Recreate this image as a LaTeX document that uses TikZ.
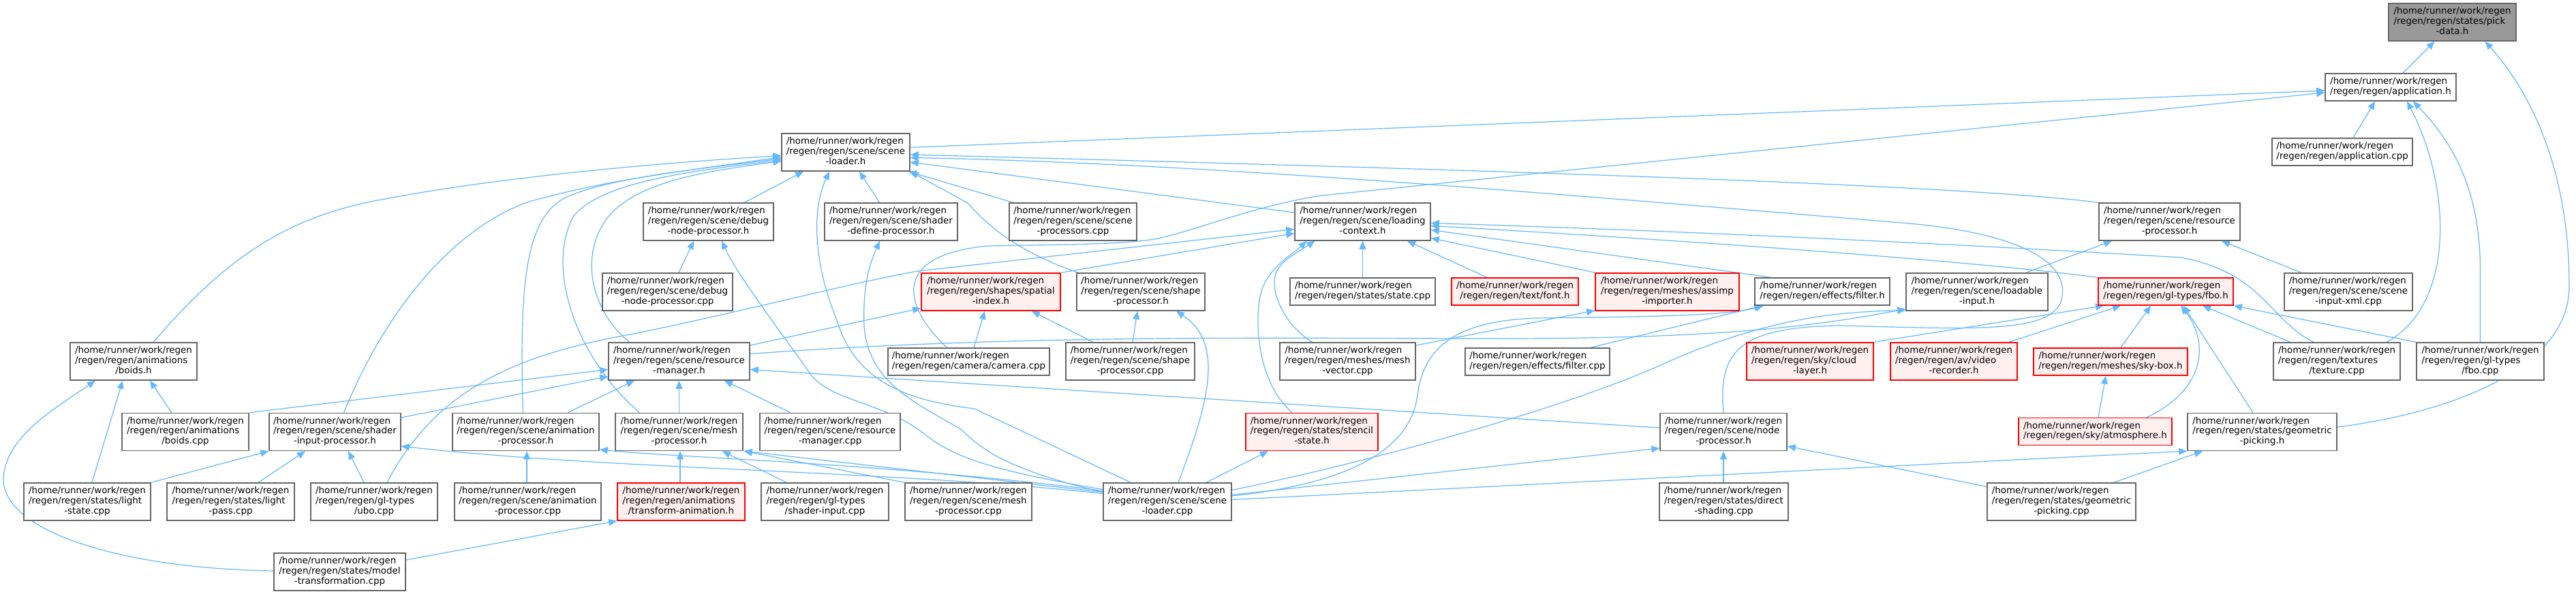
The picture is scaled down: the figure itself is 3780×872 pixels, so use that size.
\documentclass[tikz,border=0pt]{standalone}
\usepackage{fontspec}
\setmainfont{DejaVu Sans}
\usetikzlibrary{arrows.meta}
\definecolor{edgeblue}{HTML}{63B8FF}
\definecolor{boxgray}{HTML}{666666}
\definecolor{topfill}{HTML}{999999}
\definecolor{redfill}{HTML}{FFF0F0}
\definecolor{redline}{HTML}{FF0000}
\newcommand{\lthree}[3]{\begin{tabular}{@{}l@{}}#1\\#2\\\multicolumn{1}{@{}c@{}}{#3}\end{tabular}}
\newcommand{\ltwo}[2]{\begin{tabular}{@{}l@{}}#1\\\multicolumn{1}{@{}c@{}}{#2}\end{tabular}}
\newcommand{\hm}{/home/runner/work/regen}
\pgfdeclarelayer{background}
\pgfdeclarelayer{edges}
\pgfsetlayers{background,edges,main}
\begin{document}
\begin{tikzpicture}[x=1pt,y=-1pt,
  file/.style={draw=boxgray, line width=1.5pt, fill=white, inner sep=0pt, minimum height=55pt, font=\fontsize{13.4}{14.8}\selectfont},
  file2/.style={file, minimum height=40pt},
  trunc/.style={draw=redline, fill=redfill},
  topfile/.style={fill=topfill},
  dep/.style={draw=edgeblue, line width=1.2pt, -{Triangle[length=12pt,width=10pt]}},
]
\useasboundingbox (0,0) rectangle (3780,872);
\begin{pgfonlayer}{background}
\fill[white] (0,0) rectangle (3780,872);
\end{pgfonlayer}

% row 0-2
\node[file, topfile, minimum width=187pt] (pick) at (3598.5,32.5) {\lthree{\hm}{/regen/regen/states/pick}{-data.h}};
\node[file2, minimum width=192pt] (app_h) at (3508,128) {\ltwo{\hm}{/regen/regen/application.h}};
\node[file, minimum width=188pt] (sl_h) at (1241,223.5) {\lthree{\hm}{/regen/regen/scene/scene}{-loader.h}};
\node[file2, minimum width=206pt] (app_cpp) at (3437,223) {\ltwo{\hm}{/regen/regen/application.cpp}};
% row 3
\node[file, minimum width=191pt] (dnp_h) at (1039.5,325.5) {\lthree{\hm}{/regen/regen/scene/debug}{-node-processor.h}};
\node[file, minimum width=195pt] (sdp_h) at (1307.5,325.5) {\lthree{\hm}{/regen/regen/scene/shader}{-define-processor.h}};
\node[file, minimum width=187pt] (sproc) at (1574.5,325.5) {\lthree{\hm}{/regen/regen/scene/scene}{-processors.cpp}};
\node[file, minimum width=199pt] (lc_h) at (1999.5,325.5) {\lthree{\hm}{/regen/regen/scene/loading}{-context.h}};
\node[file, minimum width=207pt] (rp_h) at (3183.5,325.5) {\lthree{\hm}{/regen/regen/scene/resource}{-processor.h}};
% row 4
\node[file, minimum width=191pt] (dnp_cpp) at (979.5,428.5) {\lthree{\hm}{/regen/regen/scene/debug}{-node-processor.cpp}};
\node[file, trunc, minimum width=204pt] (spatial) at (1454,428.5) {\lthree{\hm}{/regen/regen/shapes/spatial}{-index.h}};
\node[file, minimum width=188pt] (shapep_h) at (1674,428.5) {\lthree{\hm}{/regen/regen/scene/shape}{-processor.h}};
\node[file2, minimum width=213pt] (state_cpp) at (1999.5,428) {\ltwo{\hm}{/regen/regen/states/state.cpp}};
\node[file2, trunc, minimum width=186pt] (font) at (2223,428) {\ltwo{\hm}{/regen/regen/text/font.h}};
\node[file, trunc, minimum width=211pt] (assimp) at (2446.5,428.5) {\lthree{\hm}{/regen/regen/meshes/assimp}{-importer.h}};
\node[file2, minimum width=198pt] (filter_h) at (2674,428) {\ltwo{\hm}{/regen/regen/effects/filter.h}};
\node[file, minimum width=208pt] (loadable) at (2901,428.5) {\lthree{\hm}{/regen/regen/scene/loadable}{-input.h}};
\node[file2, trunc, minimum width=198pt] (fbo_h) at (3178,428) {\ltwo{\hm}{/regen/regen/gl-types/fbo.h}};
\node[file, minimum width=188pt] (xml) at (3446,428.5) {\lthree{\hm}{/regen/regen/scene/scene}{-input-xml.cpp}};
% row 5
\node[file, minimum width=186pt] (boids_h) at (196,530.5) {\lthree{\hm}{/regen/regen/animations}{/boids.h}};
\node[file, minimum width=207pt] (resmgr_h) at (996.5,530.5) {\lthree{\hm}{/regen/regen/scene/resource}{-manager.h}};
\node[file2, minimum width=237pt] (camera) at (1421.5,531) {\ltwo{\hm}{/regen/regen/camera/camera.cpp}};
\node[file, minimum width=189pt] (shapep_cpp) at (1658.5,530.5) {\lthree{\hm}{/regen/regen/scene/shape}{-processor.cpp}};
\node[file, minimum width=199pt] (meshvec) at (1977.5,530.5) {\lthree{\hm}{/regen/regen/meshes/mesh}{-vector.cpp}};
\node[file2, minimum width=212pt] (filter_cpp) at (2256,531) {\ltwo{\hm}{/regen/regen/effects/filter.cpp}};
\node[file, trunc, minimum width=186pt] (cloud) at (2656,530.5) {\lthree{\hm}{/regen/regen/sky/cloud}{-layer.h}};
\node[file, trunc, minimum width=186pt] (video) at (2867,530.5) {\lthree{\hm}{/regen/regen/av/video}{-recorder.h}};
\node[file2, trunc, minimum width=226pt] (skybox) at (3097,531) {\ltwo{\hm}{/regen/regen/meshes/sky-box.h}};
\node[file, minimum width=186pt] (texture) at (3429,530.5) {\lthree{\hm}{/regen/regen/textures}{/texture.cpp}};
\node[file, minimum width=187pt] (fbo_cpp) at (3639.5,530.5) {\lthree{\hm}{/regen/regen/gl-types}{/fbo.cpp}};
% row 6
\node[file, minimum width=186pt] (boids_cpp) at (272,634) {\lthree{\hm}{/regen/regen/animations}{/boids.cpp}};
\node[file, minimum width=193pt] (sip_h) at (491.5,634) {\lthree{\hm}{/regen/regen/scene/shader}{-input-processor.h}};
\node[file, minimum width=215pt] (animp_h) at (771.5,634) {\lthree{\hm}{/regen/regen/scene/animation}{-processor.h}};
\node[file, minimum width=187pt] (meshp_h) at (996.5,634) {\lthree{\hm}{/regen/regen/scene/mesh}{-processor.h}};
\node[file, minimum width=206pt] (resmgr_cpp) at (1218,634) {\lthree{\hm}{/regen/regen/scene/resource}{-manager.cpp}};
\node[file, trunc, minimum width=194pt] (stencil) at (1925,634) {\lthree{\hm}{/regen/regen/states/stencil}{-state.h}};
\node[file, minimum width=186pt] (np_h) at (2529,634) {\lthree{\hm}{/regen/regen/scene/node}{-processor.h}};
\node[file2, trunc, minimum width=225pt] (atmos) at (3074.5,633.5) {\ltwo{\hm}{/regen/regen/sky/atmosphere.h}};
\node[file, minimum width=219pt] (geopick_h) at (3319.5,634) {\lthree{\hm}{/regen/regen/states/geometric}{-picking.h}};
% row 7
\node[file, minimum width=186pt] (lightstate) at (128,736.5) {\lthree{\hm}{/regen/regen/states/light}{-state.cpp}};
\node[file, minimum width=187pt] (lightpass) at (338.5,736.5) {\lthree{\hm}{/regen/regen/states/light}{-pass.cpp}};
\node[file, minimum width=186pt] (ubo) at (549,736.5) {\lthree{\hm}{/regen/regen/gl-types}{/ubo.cpp}};
\node[file, minimum width=215pt] (animp_cpp) at (774.5,736.5) {\lthree{\hm}{/regen/regen/scene/animation}{-processor.cpp}};
\node[file, trunc, minimum width=187pt] (transanim) at (999.5,736.5) {\lthree{\hm}{/regen/regen/animations}{/transform-animation.h}};
\node[file, minimum width=187pt] (shaderinput_cpp) at (1210.5,736.5) {\lthree{\hm}{/regen/regen/gl-types}{/shader-input.cpp}};
\node[file, minimum width=186pt] (meshp_cpp) at (1421,736.5) {\lthree{\hm}{/regen/regen/scene/mesh}{-processor.cpp}};
\node[file, minimum width=188pt] (sl_cpp) at (1713,736.5) {\lthree{\hm}{/regen/regen/scene/scene}{-loader.cpp}};
\node[file, minimum width=189pt] (direct) at (2529.5,736.5) {\lthree{\hm}{/regen/regen/states/direct}{-shading.cpp}};
\node[file, minimum width=218pt] (geopick_cpp) at (3025,736.5) {\lthree{\hm}{/regen/regen/states/geometric}{-picking.cpp}};
% row 8
\node[file, minimum width=193pt] (modeltrans) at (498.5,839.5) {\lthree{\hm}{/regen/regen/states/model}{-transformation.cpp}};

\begin{pgfonlayer}{edges}
% pick-data.h
\draw[dep] ([xshift=18pt]app_h.north) -- ([xshift=-26pt]pick.south);
\draw[dep] ([yshift=7pt]geopick_h.east) .. controls (3600,605) and (3770,540) .. (3770,420) .. controls (3770,230) and (3700,120) .. ([xshift=48pt]pick.south);
% application.h
\draw[dep] ([yshift=7pt]sl_h.east) -- ([yshift=-5pt]app_h.west);
\draw[dep] ([xshift=-32pt]camera.north) .. controls (1330,455) and (1300,375) .. (1450,361) .. controls (1580,359) and (1660,358) .. (1700,350) .. controls (1760,336) and (1850,300) .. (1940,287) -- ([yshift=-8pt]app_h.west);
\draw[dep] ([xshift=16pt]app_cpp.north) -- ([xshift=-23pt]app_h.south);
\draw[dep] ([xshift=73pt]texture.north) .. controls (3600,450) and (3600,280) .. ([xshift=24pt]app_h.south);
\draw[dep] (fbo_cpp.north) -- (3639.5,400) .. controls (3640,280) and (3600,210) .. ([xshift=33pt]app_h.south);
% scene-loader.h
\draw[dep] ([xshift=29pt]boids_h.north) .. controls (330,380) and (420,318) .. (560,293) .. controls (720,262) and (950,240) .. ([yshift=-5pt]sl_h.west);
\draw[dep] ([xshift=13pt]sip_h.north) .. controls (580,420) and (700,310) .. (800,290) .. controls (900,262) and (1050,245) .. ([yshift=-7pt]sl_h.west);
\draw[dep] ([xshift=-4pt]animp_h.north) .. controls (762,420) and (770,320) .. (830,290) .. controls (900,258) and (1050,246) .. ([yshift=-9pt]sl_h.west);
\draw[dep] ([xshift=-58pt]meshp_h.north) .. controls (850,530) and (800,400) .. (840,320) .. controls (880,262) and (1050,248) .. ([yshift=-11pt]sl_h.west);
\draw[dep] ([xshift=-73pt]resmgr_h.north) .. controls (860,450) and (850,360) .. (900,310) .. controls (950,262) and (1050,250) .. ([yshift=-13pt]sl_h.west);
\draw[dep] ([xshift=53pt]dnp_h.north) -- ([xshift=-62pt]sl_h.south);
\draw[dep] ([xshift=-54pt]sl_cpp.north) -- (1430,600) .. controls (1330,588) and (1255,560) .. (1228,470) .. controls (1195,390) and (1190,310) .. ([xshift=-24pt]sl_h.south);
\draw[dep] ([xshift=-17pt]sdp_h.north) -- ([xshift=20pt]sl_h.south);
\draw[dep] ([xshift=-88pt]sproc.north) -- ([xshift=-3pt]sl_h.south east);
\draw[dep] ([xshift=-92pt]shapep_h.north) .. controls (1480,365) and (1440,320) .. (1420,298) -- (sl_h.south east);
\draw[dep] ([yshift=13.5pt]lc_h.west) -- ([yshift=-14.5pt]sl_h.east);
\draw[dep] (rp_h.north west) .. controls (2900,275) and (2400,255) .. ([yshift=-3.5pt]sl_h.east);
\draw[dep] (np_h.north) .. controls (2522,520) and (2545,480) .. (2700,478) .. controls (2900,483) and (3010,490) .. (3025,440) .. controls (3040,380) and (2950,340) .. (2790,327) .. controls (2400,295) and (1800,240) .. ([yshift=-8pt]sl_h.east);
% debug / shader define
\draw[dep] ([xshift=16.5pt]dnp_cpp.north) -- ([xshift=-21.5pt]dnp_h.south);
\draw[dep] ([yshift=18pt]sl_cpp.west) .. controls (1450,690) and (1400,670) .. (1360,640) .. controls (1300,590) and (1220,590) .. (1190,550) .. controls (1140,480) and (1080,400) .. ([xshift=19.5pt]dnp_h.south);
\draw[dep] ([yshift=14pt]sl_cpp.west) .. controls (1480,690) and (1440,660) .. (1410,630) .. controls (1340,590) and (1275,560) .. (1268,480) .. controls (1266,420) and (1275,390) .. ([xshift=-16.5pt]sdp_h.south);
% loading-context.h
\draw[dep] ([xshift=19pt]ubo.north) .. controls (640,570) and (760,520) .. (930,490) .. controls (1100,455) and (1250,415) .. (1347,398) -- ([yshift=-11pt]lc_h.west);
\draw[dep] (spatial.north east) -- ([yshift=-17pt]lc_h.west);
\draw[dep] ([xshift=-52pt]meshvec.north) .. controls (1890,480) and (1868,440) .. (1870,410) .. controls (1872,385) and (1905,370) .. ([xshift=-70pt]lc_h.south);
\draw[dep] ([xshift=-29pt]stencil.north) .. controls (1855,570) and (1840,500) .. (1848,440) .. controls (1855,395) and (1895,375) .. ([xshift=-82pt]lc_h.south);
\draw[dep] (state_cpp.north) -- (lc_h.south);
\draw[dep] ([xshift=-41pt]font.north) -- ([xshift=65.5pt]lc_h.south);
\draw[dep] ([xshift=-105.5pt]assimp.north) -- ([yshift=-24pt]lc_h.east);
\draw[dep] ([xshift=-34pt]texture.north) .. controls (3330,470) and (3320,400) .. (3200,378) .. controls (2900,360) and (2500,340) .. ([yshift=-2pt]lc_h.east);
\draw[dep] (fbo_h.north west) .. controls (2950,390) and (2600,360) .. ([yshift=-6pt]lc_h.east);
\draw[dep] ([xshift=-75pt]filter_h.north) -- ([yshift=-12pt]lc_h.east);
% resource-processor.h
\draw[dep] ([xshift=72pt]loadable.north) -- ([xshift=-84.5pt]rp_h.south);
\draw[dep] ([xshift=-69pt]xml.north) -- ([xshift=76.5pt]rp_h.south);
% spatial-index.h / shape-processor.h
\draw[dep] ([yshift=23.5pt]resmgr_h.east) -- ([yshift=-24pt]spatial.west);
\draw[dep] ([xshift=7.5pt]camera.north) -- ([xshift=-9pt]spatial.south);
\draw[dep] ([xshift=-54.5pt]shapep_cpp.north) -- ([xshift=60pt]spatial.south);
\draw[dep] ([xshift=3.5pt]shapep_cpp.north) -- ([xshift=-5pt]shapep_h.south);
\draw[dep] ([xshift=16pt]sl_cpp.north) .. controls (1770,600) and (1800,505) .. ([xshift=52pt]shapep_h.south);
% assimp / filter / loadable
\draw[dep] ([yshift=23.5pt]meshvec.east) -- ([yshift=1pt]assimp.south west);
\draw[dep] ([xshift=78pt]filter_cpp.north) -- ([xshift=-88pt]filter_h.south);
\draw[dep] ([yshift=8.5pt]sl_cpp.east) .. controls (1980,710) and (2070,660) .. (2080,580) .. controls (2090,500) and (2150,472) .. (2250,467) .. controls (2450,465) and (2540,462) .. ([xshift=-86pt]filter_h.south);
\draw[dep] ([yshift=11pt]resmgr_h.east) .. controls (1500,490) and (1900,497) .. (2200,497) .. controls (2500,497) and (2650,482) .. ([yshift=-25pt]loadable.west);
\draw[dep] ([yshift=17pt]sl_cpp.east) .. controls (2000,680) and (2300,600) .. (2450,530) .. controls (2600,465) and (2700,458) .. ([yshift=-27pt]loadable.west);
% fbo.h
\draw[dep] (cloud.north east) -- ([xshift=-91pt]fbo_h.south);
\draw[dep] ([xshift=81pt]video.north) -- ([xshift=-66pt]fbo_h.south);
\draw[dep] ([xshift=15pt]skybox.north) -- ([xshift=-22pt]fbo_h.south);
\draw[dep] ([xshift=75.5pt]atmos.north) .. controls (3240,570) and (3240,500) .. ([xshift=22pt]fbo_h.south);
\draw[dep] ([xshift=-13.5pt]geopick_h.north) -- ([xshift=26pt]fbo_h.south);
\draw[dep] ([xshift=-68pt]texture.north) -- ([xshift=54pt]fbo_h.south);
\draw[dep] (fbo_cpp.north west) -- (fbo_h.south east);
% resource-manager.h
\draw[dep] (boids_cpp.north east) -- ([yshift=-12pt]resmgr_h.west);
\draw[dep] ([yshift=21pt]sip_h.east) -- ([yshift=-22pt]resmgr_h.west);
\draw[dep] ([xshift=61.5pt]animp_h.north) -- ([xshift=-65.5pt]resmgr_h.south);
\draw[dep] (meshp_h.north) -- (resmgr_h.south);
\draw[dep] ([xshift=-58pt]resmgr_cpp.north) -- ([xshift=66.5pt]resmgr_h.south);
\draw[dep] ([yshift=6pt]np_h.west) -- ([yshift=-12pt]resmgr_h.east);
% boids.h
\draw[dep] ([xshift=-20pt]boids_cpp.north) -- ([xshift=24pt]boids_h.south);
\draw[dep] ([xshift=7pt]lightstate.north) -- ([xshift=-16pt]boids_h.south);
\draw[dep] ([yshift=1.5pt]modeltrans.west) .. controls (180,835) and (0,780) .. (5,700) .. controls (10,640) and (80,600) .. ([xshift=-56pt]boids_h.south);
% shader-input-processor.h / animation-processor.h
\draw[dep] (lightstate.north east) -- (sip_h.south west);
\draw[dep] ([xshift=40.5pt]lightpass.north) -- ([xshift=-43.5pt]sip_h.south);
\draw[dep] ([xshift=-15pt]ubo.north) -- ([xshift=19.5pt]sip_h.south);
\draw[dep] ([yshift=12pt]sl_cpp.west) .. controls (1300,690) and (900,690) .. ([yshift=-21pt]sip_h.east);
\draw[dep] ([xshift=-1.5pt]animp_cpp.north) -- ([xshift=1.5pt]animp_h.south);
\draw[dep] ([yshift=16pt]sl_cpp.west) .. controls (1300,680) and (1000,672) .. ([yshift=-26pt]animp_h.east);
% mesh-processor.h
\draw[dep] ([xshift=-1.5pt]transanim.north) -- ([xshift=1.5pt]meshp_h.south);
\draw[dep] ([xshift=-56.5pt]shaderinput_cpp.north) -- ([xshift=63.5pt]meshp_h.south);
\draw[dep] (meshp_cpp.north west) -- ([xshift=1pt]meshp_h.south east);
\draw[dep] ([yshift=14pt]sl_cpp.west) -- ([xshift=1pt]meshp_h.south east);
% others
\draw[dep] ([xshift=57pt]sl_cpp.north) -- ([xshift=-64pt]stencil.south);
\draw[dep] ([yshift=10pt]sl_cpp.east) -- ([yshift=-24pt]np_h.west);
\draw[dep] ([xshift=-0.5pt]direct.north) -- (np_h.south);
\draw[dep] ([yshift=22pt]geopick_cpp.west) -- ([yshift=-21pt]np_h.east);
\draw[dep] ([xshift=4.5pt]atmos.north) -- ([xshift=-7pt]skybox.south);
\draw[dep] ([yshift=3pt]sl_cpp.east) -- (geopick_h.south west);
\draw[dep] ([xshift=77pt]geopick_cpp.north) -- ([xshift=-87.5pt]geopick_h.south);
\draw[dep] ([yshift=17.5pt]modeltrans.east) -- (transanim.south west);
\end{pgfonlayer}
\end{tikzpicture}
\end{document}
